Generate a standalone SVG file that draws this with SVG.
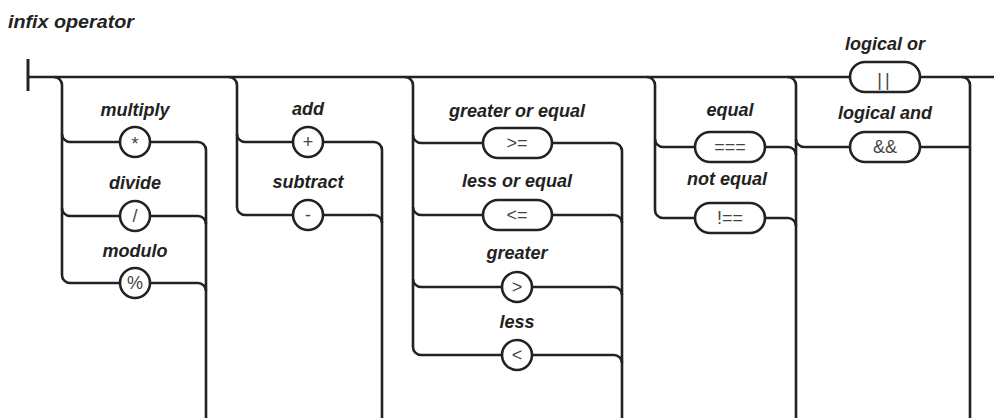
<svg xmlns="http://www.w3.org/2000/svg" width="994" height="418" viewBox="0 0 994 418">
<style>
.ln{fill:none;stroke:#222;stroke-width:2.6;stroke-linejoin:round}
.nd{fill:#fff;stroke:#222;stroke-width:2.6}
.lb{font-family:"Liberation Sans",Arial,sans-serif;font-weight:bold;font-style:italic;font-size:18px;fill:#222;text-anchor:middle}
.op{font-family:"Liberation Sans",Arial,sans-serif;font-size:18px;fill:#444;text-anchor:middle}
.tt{font-family:"Liberation Sans",Arial,sans-serif;font-weight:bold;font-style:italic;font-size:18px;fill:#222}
</style>
<rect width="994" height="418" fill="#fff"/>
<text class="tt" x="8" y="28" textLength="126" lengthAdjust="spacingAndGlyphs">infix operator</text>
<g id="connectors">
<line x1="28" y1="59" x2="28" y2="91" stroke="#222" stroke-width="3"/>
<path class="ln" d="M28 77 H994"/>
<path class="ln" d="M54 77 A8 8 0 0 1 62 85 V275 A8 8 0 0 0 70 283 H120"/>
<path class="ln" d="M62 134 A8 8 0 0 0 70 142 H120"/>
<path class="ln" d="M62 208 A8 8 0 0 0 70 216 H120"/>
<path class="ln" d="M150 142 H198 A8 8 0 0 1 206 150 V418"/>
<path class="ln" d="M150 216 H198 A8 8 0 0 1 206 224"/>
<path class="ln" d="M150 283 H198 A8 8 0 0 1 206 291"/>
<path class="ln" d="M229 77 A8 8 0 0 1 237 85 V207 A8 8 0 0 0 245 215 H293"/>
<path class="ln" d="M237 134 A8 8 0 0 0 245 142 H293"/>
<path class="ln" d="M323 142 H374 A8 8 0 0 1 382 150 V418"/>
<path class="ln" d="M323 215 H374 A8 8 0 0 1 382 223"/>
<path class="ln" d="M405 77 A8 8 0 0 1 413 85 V347 A8 8 0 0 0 421 355 H502"/>
<path class="ln" d="M413 135 A8 8 0 0 0 421 143 H483"/>
<path class="ln" d="M413 207 A8 8 0 0 0 421 215 H483"/>
<path class="ln" d="M413 279 A8 8 0 0 0 421 287 H502"/>
<path class="ln" d="M552 143 H614 A8 8 0 0 1 622 151 V418"/>
<path class="ln" d="M552 215 H614 A8 8 0 0 1 622 223"/>
<path class="ln" d="M532 287 H614 A8 8 0 0 1 622 295"/>
<path class="ln" d="M532 355 H614 A8 8 0 0 1 622 363"/>
<path class="ln" d="M647 77 A8 8 0 0 1 655 85 V210 A8 8 0 0 0 663 218 H695"/>
<path class="ln" d="M655 139 A8 8 0 0 0 663 147 H695"/>
<path class="ln" d="M765 147 H788 A8 8 0 0 1 796 155"/>
<path class="ln" d="M765 218 H788 A8 8 0 0 1 796 226"/>
<path class="ln" d="M788 77 A8 8 0 0 1 796 85 V418"/>
<path class="ln" d="M796 139 A8 8 0 0 0 804 147 H850"/>
<path class="ln" d="M920 147 H970"/>
<path class="ln" d="M962 77 A8 8 0 0 1 970 85 V418"/>
</g>
<g id="multiply"><text class="lb" x="135" y="116">multiply</text><circle class="nd" cx="135" cy="142" r="15"/><text class="op" x="135" y="150">*</text></g>
<g id="divide"><text class="lb" x="135" y="189">divide</text><circle class="nd" cx="135" cy="216" r="15"/><text class="op" x="135" y="222">/</text></g>
<g id="modulo"><text class="lb" x="135" y="257">modulo</text><circle class="nd" cx="135" cy="283" r="15"/><text class="op" x="135" y="289">%</text></g>
<g id="add"><text class="lb" x="308" y="115">add</text><circle class="nd" cx="308" cy="142" r="15"/><text class="op" x="308" y="148">+</text></g>
<g id="subtract"><text class="lb" x="308" y="188">subtract</text><circle class="nd" cx="308" cy="215" r="15"/><text class="op" x="308" y="221">-</text></g>
<g id="greater-or-equal"><text class="lb" x="517" y="117">greater or equal</text><rect class="nd" x="483" y="128" width="69" height="30" rx="15"/><text class="op" x="517" y="149">&gt;=</text></g>
<g id="less-or-equal"><text class="lb" x="517" y="187">less or equal</text><rect class="nd" x="483" y="200" width="69" height="30" rx="15"/><text class="op" x="517" y="221">&lt;=</text></g>
<g id="greater"><text class="lb" x="517" y="259">greater</text><circle class="nd" cx="517" cy="287" r="15"/><text class="op" x="517" y="293">&gt;</text></g>
<g id="less"><text class="lb" x="517" y="328">less</text><circle class="nd" cx="517" cy="355" r="15"/><text class="op" x="517" y="361">&lt;</text></g>
<g id="equal"><text class="lb" x="730" y="116">equal</text><rect class="nd" x="695" y="132" width="70" height="30" rx="15"/><text class="op" x="730" y="153">===</text></g>
<g id="not-equal"><text class="lb" x="727" y="185">not equal</text><rect class="nd" x="695" y="203" width="70" height="30" rx="15"/><text class="op" x="730" y="224">!==</text></g>
<g id="logical-or"><text class="lb" x="885" y="50">logical or</text><rect class="nd" x="850" y="62" width="70" height="30" rx="15"/><text class="op" x="885" y="86" font-size="25" letter-spacing="3">||</text></g>
<g id="logical-and"><text class="lb" x="885" y="119">logical and</text><rect class="nd" x="850" y="132" width="70" height="30" rx="15"/><text class="op" x="885" y="153">&amp;&amp;</text></g>
</svg>
